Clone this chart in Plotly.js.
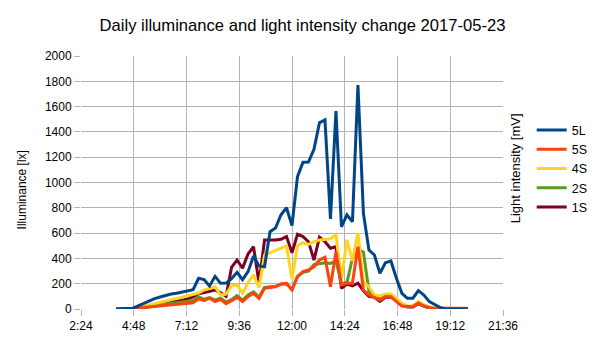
<!DOCTYPE html>
<html>
<head>
<meta charset="utf-8">
<script src="https://cdn.plot.ly/plotly-3.0.1.min.js"></script>
<style>html,body{margin:0;padding:0;background:#fff;}#chart{width:605px;height:340px;}</style>
</head>
<body>
<div id="chart"></div>
<script>
const times = ["4:00","4:15","4:30","4:45","5:00","5:15","5:30","5:45","6:00","6:15","6:30","6:45",
"7:00","7:15","7:30","7:45","8:00","8:15","8:30","8:45","9:00","9:15","9:30","9:45",
"10:00","10:15","10:30","10:45","11:00","11:15","11:30","11:45","12:00","12:15","12:30","12:45",
"13:00","13:15","13:30","13:45","14:00","14:15","14:30","14:45","15:00","15:15","15:30","15:45",
"16:00","16:15","16:30","16:45","17:00","17:15","17:30","17:45","18:00","18:15","18:30","18:45",
"19:00","19:15","19:30","19:45","20:00"];

const s5L = [0,0,0,5,25,45,65,82,95,108,118,125,
132,140,152,243,232,182,258,203,205,240,290,232,
295,419,340,334,611,640,745,800,660,1046,1160,1162,
1262,1473,1495,712,1565,650,745,690,1770,756,466,427,
282,366,380,243,124,85,85,145,111,58,32,11,
0,0,0,0,0];

const s5S = [0,0,2,5,8,12,16,20,24,28,32,36,
40,45,50,80,66,85,58,77,42,66,92,58,
97,124,85,164,171,176,198,203,150,258,295,308,
334,387,409,176,453,190,203,203,492,150,111,92,
71,97,97,58,24,19,19,47,24,13,5,5,
5,5,5,5,5];

const s4S = [0,0,0,2,10,20,30,42,52,65,75,85,
95,105,115,125,150,165,175,110,118,185,190,124,
208,270,170,427,445,461,480,500,235,500,524,510,
532,545,550,555,585,235,545,380,600,215,176,111,
103,119,119,85,45,24,24,58,32,13,5,2,
2,2,2,2,2];

const s2S = [0,0,0,0,5,10,18,25,32,38,44,50,
56,62,68,95,78,90,70,85,55,75,105,70,
110,135,95,170,175,180,195,200,155,255,290,300,
350,360,365,360,380,200,210,400,470,450,140,100,
80,100,100,65,30,20,20,50,28,12,5,3,
3,3,3,3,3];

const s1S = [0,0,0,0,5,12,20,28,35,42,50,58,
70,80,95,120,128,138,150,128,100,330,387,322,
435,492,205,545,545,545,551,572,445,590,572,532,
387,567,532,480,492,164,198,182,205,145,100,92,
60,92,95,70,32,15,15,42,22,8,3,2,
2,2,2,2,2];

const xTickLabels = ["2:24","4:48","7:12","9:36","12:00","14:24","16:48","19:12","21:36"];
const yTickVals = [0,200,400,600,800,1000,1200,1400,1600,1800,2000];

const seriesNames = ["1S","2S","4S","5S","5L"];
const seriesData = [s1S, s2S, s4S, s5S, s5L];
const seriesColors = ["#7e0021","#579d1c","#ffd320","#ff420e","#004586"];

function toHours(t){const p=t.split(":");return (+p[0])+(+p[1])/60;}
const xHours = times.map(toHours);
const xTickVals = xTickLabels.map(toHours);

const traces = seriesNames.map((n,i)=>({
  type:'scatter', mode:'lines', name:n, x:xHours, y:seriesData[i],
  line:{color:seriesColors[i], width:3}
}));

const F = '"Liberation Sans", Arial, sans-serif';
const layout = {
  width:605, height:340,
  margin:{l:81, r:100, t:56, b:31, pad:0},
  paper_bgcolor:'#fff', plot_bgcolor:'#fff',
  font:{family:F, size:12, color:'#000'},
  title:{text:'Daily illuminance and light intensity change 2017-05-23', font:{family:F, size:16.6, color:'#000'}, x:0.5, xanchor:'center', y:0.925, yanchor:'middle'},
  showlegend:true,
  legend:{traceorder:'reversed', x:1.068, xanchor:'left', y:0.765, yanchor:'top', font:{family:F,size:12.5,color:'#000'}, bgcolor:'rgba(0,0,0,0)', borderwidth:0, tracegroupgap:0},
  xaxis:{range:[2.4,21.6], tickvals:xTickVals, ticktext:xTickLabels, showgrid:true, gridcolor:'#b3b3b3', gridwidth:1,
    ticks:'outside', ticklen:6, tickcolor:'#b3b3b3', zeroline:false, showline:false, tickfont:{family:F,size:12,color:'#000'}, fixedrange:true},
  yaxis:{range:[0,2000], tickvals:yTickVals, showgrid:true, gridcolor:'#b3b3b3', gridwidth:1,
    ticks:'outside', ticklen:6, tickcolor:'#b3b3b3', zeroline:false, showline:false, tickfont:{family:F,size:12,color:'#000'}, fixedrange:true},
  annotations:[
    {text:'Illuminance [lx]', xref:'paper', yref:'paper', x:-0.139, y:0.47, textangle:-90, showarrow:false, xanchor:'center', yanchor:'middle', font:{family:F,size:12,color:'#000'}},
    {text:'Light intensity [mV]', xref:'paper', yref:'paper', x:1.03, y:0.555, textangle:-90, showarrow:false, xanchor:'center', yanchor:'middle', font:{family:F,size:13,color:'#000'}}
  ]
};
Plotly.newPlot('chart', traces, layout, {staticPlot:true, displayModeBar:false});
</script>
</body>
</html>
